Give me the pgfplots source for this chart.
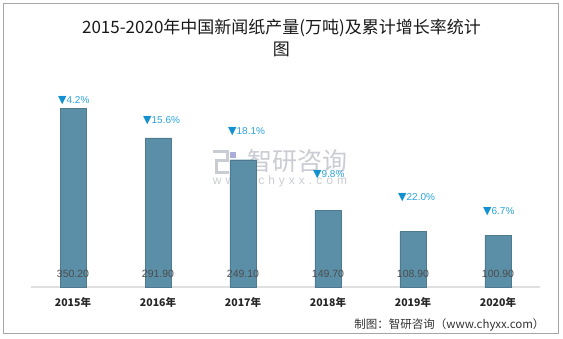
\documentclass[border=0pt]{standalone}
\usepackage{pgfplots}
\pgfplotsset{compat=1.18}
\usepackage{fontspec}
\setmainfont{Liberation Sans}
\newfontfamily\cjk{Noto Sans CJK SC}
\newfontfamily\sym{DejaVu Sans}
\definecolor{barblue}{HTML}{5B8FA7}
\definecolor{pctblue}{HTML}{2AA3DC}
\definecolor{triblue}{HTML}{1290CF}
\definecolor{wm}{HTML}{C9CCD2}
\newcommand{\tri}{{\sym\fontsize{11}{12}\selectfont\textcolor{triblue}{▼}}}
\begin{document}
\begin{tikzpicture}
\path (0,0) rectangle (563pt,338pt);
\draw[color=black!35, line width=0.8pt] (3.5pt,4.5pt) rectangle (558pt,334.5pt);
% title
\node[font=\cjk\fontsize{17}{22}\selectfont, text=black!90, align=center] at (281.5pt,338pt-38pt)
  {2015-2020年中国新闻纸产量(万吨)及累计增长率统计\\图};
% watermark
\begin{scope}[wm, line width=3pt]
\draw (213pt,338pt-152pt) -- (227pt,338pt-152pt) -- (227pt,338pt-161pt) -- (216pt,338pt-161pt) -- (216pt,338pt-173pt) -- (229pt,338pt-173pt);
\fill[blue!15!wm] (230pt,338pt-152pt) rectangle (236pt,338pt-158pt);
\fill[blue!15!wm] (230pt,338pt-162pt) rectangle (236pt,338pt-175pt);
\end{scope}
\node[font=\cjk\fontsize{25}{26}\selectfont, text=wm] at (297.5pt,338pt-161pt) {智研咨询};
\node[font=\fontsize{12}{13}\selectfont, text=wm] at (280pt,338pt-181pt) {w\,\,w\,\,w\,\,.\,\,c\,\,h\,\,y\,\,x\,\,x\,\,.\,\,c\,\,o\,\,m};
\begin{axis}[
  at={(30.5pt,51pt)}, anchor=south west,
  scale only axis, width=510pt, height=204.4pt,
  xmin=-0.5, xmax=5.5, ymin=0, ymax=400,
  axis y line=none, axis x line*=bottom,
  x axis line style={-, draw=black!12, line width=1.2pt},
  xtick={0,1,2,3,4,5},
  xticklabels={2015年,2016年,2017年,2018年,2019年,2020年},
  major tick length=0pt,
  x tick label style={font=\cjk\bfseries\fontsize{10.5}{12}\selectfont, text=black!85, yshift=-7pt},
  clip=false,
]
\addplot[ybar, bar width=26pt, fill=barblue, draw=barblue!85!black, line width=0.3pt]
  coordinates {(0,350.2) (1,291.9) (2,249.1) (3,149.7) (4,108.9) (5,100.9)};
\addplot[draw=none, mark=none, nodes near coords, point meta=explicit symbolic,
  every node near coord/.append style={anchor=center, font=\fontsize{10.5}{12}\selectfont, text=black!70}]
  table[meta=l] {
x y l
0 25.4 350.20
1 25.4 291.90
2 25.4 249.10
3 25.4 149.70
4 25.4 108.90
5 25.4 100.90
};
\addplot[draw=none, mark=none, nodes near coords, point meta=explicit symbolic,
  every node near coord/.append style={anchor=west, xshift=-15pt, inner sep=0pt, font=\fontsize{10}{12}\selectfont, text=pctblue}]
  table[meta=l] {
x y l
0 364 \tri4.2\%
1 325 \tri15.6\%
2 305 \tri18.1\%
3 219 \tri9.8\%
4 174 \tri22.0\%
5 147 \tri6.7\%
};
\end{axis}
\node[anchor=east, font=\cjk\fontsize{11.5}{13}\selectfont, text=black!80] at (548pt,13pt) {制图：智研咨询（www.chyxx.com）};
\end{tikzpicture}
\end{document}
